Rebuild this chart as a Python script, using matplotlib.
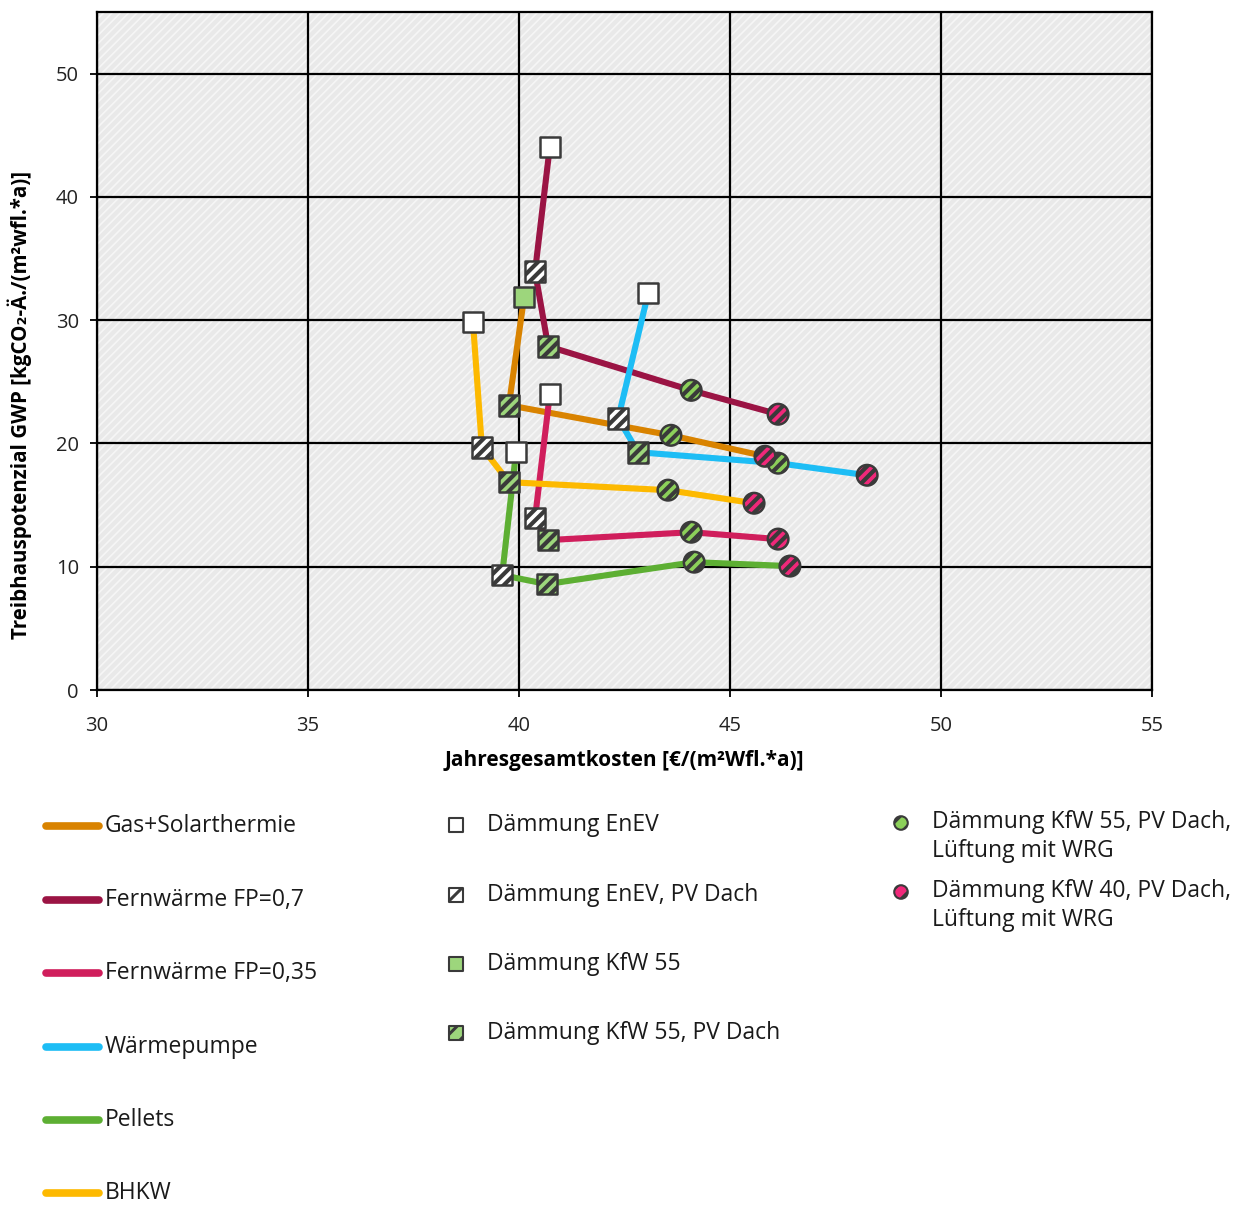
import matplotlib
matplotlib.use("Agg")
import matplotlib.pyplot as plt
from matplotlib.patches import Rectangle

plt.rcParams['font.family'] = ['Open Sans', 'DejaVu Sans']

# ---------------- data ----------------
series_names = ["Gas+Solarthermie", "Fernwärme FP=0,7", "Fernwärme FP=0,35",
                "Wärmepumpe", "Pellets", "BHKW"]
series_colors = ["#D98300", "#9B1444", "#D01E5C", "#1DBDF5", "#5DAF33", "#FDB900"]

gas_x = [40.12, 39.76, 43.60, 45.83]
gas_y = [31.85, 23.10, 20.66, 18.96]
gas_t = ["K", "KP", "C55", "C40"]

fw07_x = [40.73, 40.38, 40.69, 44.08, 46.14]
fw07_y = [44.08, 33.95, 27.88, 24.31, 22.37]
fw07_t = ["E", "EP", "KP", "C55", "C40"]

fw035_x = [40.73, 40.38, 40.69, 44.08, 46.14]
fw035_y = [23.99, 13.94, 12.16, 12.80, 12.24]
fw035_t = ["E", "EP", "KP", "C55", "C40"]

wp_x = [43.06, 42.35, 42.82, 46.14, 48.25]
wp_y = [32.17, 22.04, 19.29, 18.40, 17.42]
wp_t = ["E", "EP", "KP", "C55", "C40"]

pel_x = [39.93, 39.60, 40.66, 44.15, 46.42]
pel_y = [19.29, 9.32, 8.59, 10.37, 10.05]
pel_t = ["E", "EP", "KP", "C55", "C40"]

bhkw_x = [38.91, 39.12, 39.76, 43.53, 45.57]
bhkw_y = [29.82, 19.69, 16.86, 16.21, 15.15]
bhkw_t = ["E", "EP", "KP", "C55", "C40"]

all_x = [gas_x, fw07_x, fw035_x, wp_x, pel_x, bhkw_x]
all_y = [gas_y, fw07_y, fw035_y, wp_y, pel_y, bhkw_y]
all_t = [gas_t, fw07_t, fw035_t, wp_t, pel_t, bhkw_t]

marker_codes = ["E", "EP", "K", "KP", "C55", "C40"]
marker_labels = ["Dämmung EnEV", "Dämmung EnEV, PV Dach", "Dämmung KfW 55",
                 "Dämmung KfW 55, PV Dach",
                 "Dämmung KfW 55, PV Dach,\nLüftung mit WRG",
                 "Dämmung KfW 40, PV Dach,\nLüftung mit WRG"]

x_ticks = [30, 35, 40, 45, 50, 55]
y_ticks = [0, 10, 20, 30, 40, 50]

# ---------------- styles ----------------
EDGE = "#3a3a3a"
GREEN = "#9DD67C"
GREEN_C = "#8CD05A"
PINK = "#F0287A"
mstyle = {
    "E":   dict(marker="s", fc="white", hatch=None),
    "EP":  dict(marker="s", fc="white", hatch="///"),
    "K":   dict(marker="s", fc=GREEN, hatch=None),
    "KP":  dict(marker="s", fc=GREEN, hatch="///"),
    "C55": dict(marker="o", fc=GREEN_C, hatch="///"),
    "C40": dict(marker="o", fc=PINK, hatch="///"),
}

W, H = 1248, 1205
fig = plt.figure(figsize=(W / 100, H / 100), dpi=100)
ax = fig.add_axes([97 / W, 1 - 690 / H, (1152 - 97) / W, (690 - 12) / H])

ax.set_xlim(30, 55)
ax.set_ylim(0, 55)
ax.set_facecolor("#e9e9e9")

with plt.rc_context({"hatch.linewidth": 1.2, "hatch.color": "#f6f6f6"}):
    bg = Rectangle((0, 0), 1, 1, transform=ax.transAxes, facecolor="none",
                   edgecolor="#f6f6f6", hatch="////", linewidth=0, zorder=0)
    if hasattr(bg, "set_hatch_linewidth"):
        bg.set_hatch_linewidth(1.2)
    ax.add_patch(bg)

ax.set_xticks(x_ticks)
ax.set_yticks(y_ticks)
ax.grid(True, color="black", linewidth=1.6, zorder=1)
ax.set_axisbelow(True)
for sp in ax.spines.values():
    sp.set_color("black")
    sp.set_linewidth(1.6)
ax.tick_params(axis="both", labelsize=14.5, length=5, width=1.3, color="black",
               labelcolor="#222222")
ax.tick_params(axis="x", pad=14)
ax.tick_params(axis="y", pad=8)

# lines
for xs, ys, c in zip(all_x, all_y, series_colors):
    ax.plot(xs, ys, color=c, linewidth=4.4, solid_capstyle="butt", zorder=3)

# markers
with plt.rc_context({"hatch.linewidth": 3.0, "hatch.color": "#2a2a2a"}):
    for code in marker_codes:
        px, py = [], []
        for xs, ys, ts in zip(all_x, all_y, all_t):
            for xv, yv, tv in zip(xs, ys, ts):
                if tv == code:
                    px.append(xv)
                    py.append(yv)
        if not px:
            continue
        st = mstyle[code]
        sc = ax.scatter(px, py, marker=st["marker"], s=220, facecolors=st["fc"],
                        edgecolors=EDGE, linewidths=1.8, hatch=st["hatch"], zorder=4)
        if st["hatch"] and hasattr(sc, "set_hatch_linewidth"):
            sc.set_hatch_linewidth(3.0)

ax.set_xlabel("Jahresgesamtkosten [€/(m²Wfl.*a)]", fontsize=15, fontweight="bold",
              labelpad=10)
fig.text(20 / W, 1 - 405 / H, "Treibhauspotenzial GWP [kgCO₂-Ä./(m²wfl.*a)]",
         rotation=90, ha="center", va="center", fontsize=14.8, fontweight="bold")

# ---------------- legend (overlay in pixel coordinates) ----------------
lg = fig.add_axes([0, 0, 1, 1], zorder=5)
lg.set_xlim(0, W)
lg.set_ylim(H, 0)
lg.axis("off")
lg.patch.set_alpha(0)

row_y1 = [826, 900, 973, 1047, 1120, 1193]
for yy, c, lab in zip(row_y1, series_colors, series_names):
    lg.plot([46, 99], [yy, yy], color=c, linewidth=5.5, solid_capstyle="round")
    lg.text(105, yy, lab, fontsize=16.5, va="center", ha="left", color="#1a1a1a")

row_y2 = [825, 895, 964, 1033]
row_y3 = [823, 892]
with plt.rc_context({"hatch.linewidth": 2.2, "hatch.color": "#2a2a2a"}):
    for i, code in enumerate(marker_codes):
        st = mstyle[code]
        if i < 4:
            mx, my, tx = 456, row_y2[i], 487
            txt_y = row_y2[i]
            va = "center"
        else:
            mx, my, tx = 901, row_y3[i - 4], 932
            txt_y = row_y3[i - 4] - 13
            va = "top"
        h = "//" if st["hatch"] else None
        sc = lg.scatter([mx], [my], marker=st["marker"], s=95, facecolors=st["fc"],
                        edgecolors=EDGE, linewidths=1.5, hatch=h, zorder=6)
        if h and hasattr(sc, "set_hatch_linewidth"):
            sc.set_hatch_linewidth(2.2)
        lg.text(tx, txt_y, marker_labels[i], fontsize=16.5, va=va, ha="left",
                color="#1a1a1a", linespacing=1.3)

fig.savefig("out.png", dpi=100)
